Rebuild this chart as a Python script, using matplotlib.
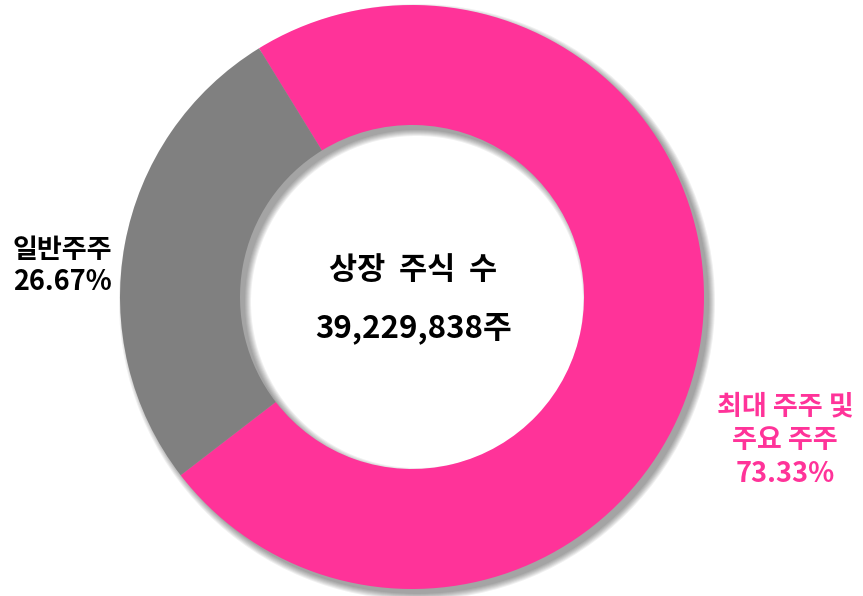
import matplotlib.pyplot as plt
from matplotlib.patches import Wedge

plt.rcParams['font.family'] = ['Noto Sans CJK KR', 'DejaVu Sans']

# data
labels = ['최대 주주 및\n주요 주주', '일반주주']
shares = [73.33, 26.67]
colors = ['#FF3399', '#808080']
total_shares = '39,229,838주'

W, H = 863, 596
fig = plt.figure(figsize=(W / 100, H / 100), dpi=100)
ax = fig.add_axes([0, 0, 1, 1])
ax.set_xlim(0, W)
ax.set_ylim(0, H)
ax.set_aspect('equal')
ax.axis('off')

cx, cy = 412, H - 297
r_out, r_in = 292, 172

# soft drop shadow (offset down-right)
for k in range(7):
    grow = k * 1.0
    ax.add_patch(Wedge((cx + 5, cy - 5), r_out + grow, 0, 360,
                       width=(r_out - r_in) + 2 * grow,
                       facecolor='black', alpha=0.06, lw=0, zorder=1))

ax.pie(shares, colors=colors, startangle=121.6, counterclock=False,
       radius=r_out, center=(cx, cy), frame=True,
       wedgeprops=dict(width=r_out - r_in, linewidth=0))
for p in ax.patches[-2:]:
    p.set_zorder(2)
ax.set_xlim(0, W)
ax.set_ylim(0, H)
ax.axis('off')

ax.text(cx + 1, H - 270, '상장  주식  수', ha='center', va='center',
        fontsize=22, fontweight='bold', color='black', zorder=5)
ax.text(cx + 2, H - 328, total_shares, ha='center', va='center',
        fontsize=22.5, fontweight='bold', color='black', zorder=5)

ax.text(62, H - 266, f'{labels[1]}\n{shares[1]:.2f}%', ha='center', va='center',
        fontsize=19.5, fontweight='bold', color='black', linespacing=1.2, zorder=5)
ax.text(785, H - 440, f'{labels[0]}\n{shares[0]:.2f}%', ha='center', va='center',
        fontsize=19.5, fontweight='bold', color=colors[0], linespacing=1.25, zorder=5)

fig.savefig('out.png', dpi=100, facecolor='white')
